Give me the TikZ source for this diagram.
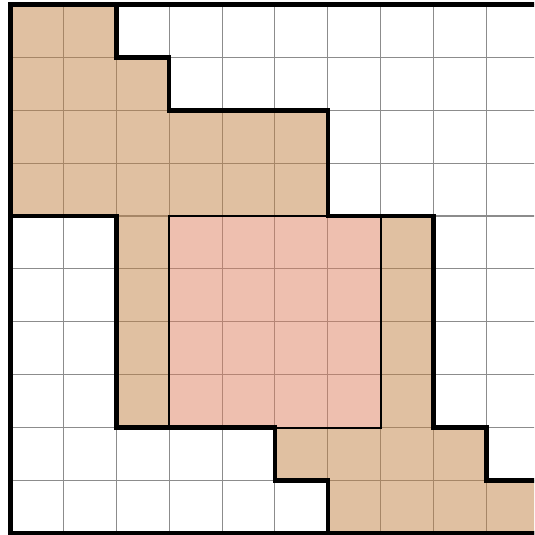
\documentclass[tikz,border=0pt]{standalone}
\definecolor{tanfill}{RGB}{193,129,67}
\definecolor{pinkfill}{RGB}{221,127,95}
\definecolor{gridgray}{RGB}{140,140,140}
\begin{document}
\begin{tikzpicture}[x=1cm,y=1cm,
  gridline/.style={draw=gridgray,line width=0.55pt},
  regionfill/.style={fill=tanfill,fill opacity=0.5,even odd rule},
  innerfill/.style={fill=pinkfill,fill opacity=0.5},
  thickline/.style={draw=black,line width=2.5pt,line join=miter},
  innerline/.style={draw=black,line width=1.1pt}]
\useasboundingbox (-0.197,-0.030) rectangle (9.898,10.083);
\begin{scope}
\clip (-0.197,-0.030) rectangle (9.898,10.083);
\draw[gridline] (0,0) grid (10,10);
\path[regionfill] (0,10) -- (2,10) -- (2,9) -- (3,9) -- (3,8) -- (6,8) -- (6,6) -- (8,6) -- (8,2) -- (9,2) -- (9,1) -- (10,1) -- (10,0) -- (6,0) -- (6,1) -- (5,1) -- (5,2) -- (2,2) -- (2,6) -- (0,6) -- cycle
  (3,2) rectangle (7,6);
\path[innerfill] (3,2) rectangle (7,6);
\draw[innerline] (3,2) rectangle (7,6);
\draw[thickline] (0,10) -- (2,10) -- (2,9) -- (3,9) -- (3,8) -- (6,8) -- (6,6) -- (8,6) -- (8,2) -- (9,2) -- (9,1) -- (10,1) -- (10,0) -- (6,0) -- (6,1) -- (5,1) -- (5,2) -- (2,2) -- (2,6) -- (0,6) -- cycle;
\draw[thickline] (0,0) rectangle (10,10);
\end{scope}
\end{tikzpicture}
\end{document}
